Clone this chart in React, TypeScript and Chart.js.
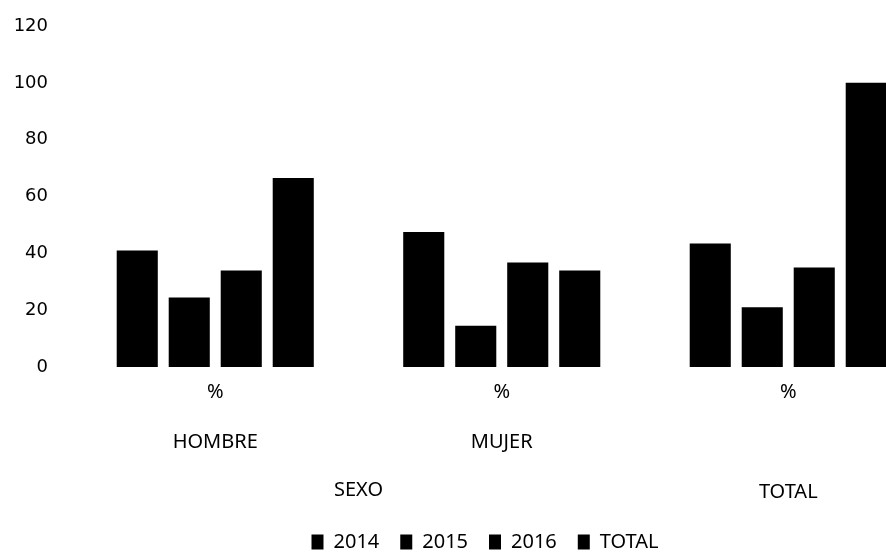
import React, { useEffect, useRef } from 'react';
import { Chart, registerables } from 'chart.js';

Chart.register(...registerables);

// ---- data ----
const categories: string[][] = [['%', 'HOMBRE'], ['%', 'MUJER'], ['%', '', 'TOTAL']];
const spanLabel = 'SEXO'; // spans the first two categories
const spanCategories = [0, 1];
const seriesNames = ['2014', '2015', '2016', 'TOTAL'];
const values2014 = [41, 47.5, 43.5];
const values2015 = [24.5, 14.5, 21];
const values2016 = [34, 36.8, 35];
const valuesTotal = [66.5, 34, 100];
const yMin = 0;
const yMax = 120;
const yStep = 20;

const W = 970;
const H = 554;
const LABEL_FONT = '"Noto Sans", sans-serif';
const LINE_H = 50;
const X_PAD = 0;

const spanPlugin = {
  id: 'spanLabel',
  afterDraw(chart: any) {
    const xs = chart.scales.x;
    const ctx = chart.ctx;
    const px =
      spanCategories.reduce((s, i) => s + xs.getPixelForValue(i), 0) / spanCategories.length;
    const py = xs.top + X_PAD + LINE_H * 2 + LINE_H / 2 - 2;
    ctx.save();
    ctx.fillStyle = '#000';
    ctx.font = '20px ' + LABEL_FONT;
    ctx.textAlign = 'center';
    ctx.textBaseline = 'middle';
    ctx.fillText(spanLabel, px, py);
    ctx.restore();
  },
};

export default function App() {
  const ref = useRef<HTMLCanvasElement>(null);
  useEffect(() => {
    if (!ref.current) return;
    const series = [values2014, values2015, values2016, valuesTotal];
    const chart = new Chart(ref.current, {
      type: 'bar',
      data: {
        labels: categories,
        datasets: seriesNames.map((name, i) => ({
          label: name,
          data: series[i],
          backgroundColor: '#000',
          borderWidth: 0,
          categoryPercentage: 0.726,
          barPercentage: 0.79,
        })),
      },
      options: {
        responsive: false,
        animation: false,
        devicePixelRatio: 1,
        layout: { padding: { left: 0, right: 0, top: 26, bottom: -8 } },
        plugins: {
          tooltip: { enabled: false },
          legend: {
            position: 'bottom',
            labels: {
              color: '#000',
              font: { family: LABEL_FONT, size: 20 },
              boxWidth: 12,
              boxHeight: 15,
              padding: 21,
            },
          },
        },
        scales: {
          x: {
            grid: { display: false, drawTicks: false },
            border: { display: false },
            ticks: {
              color: '#000',
              padding: X_PAD,
              maxRotation: 0,
              autoSkip: false,
              font: { family: LABEL_FONT, size: 20, lineHeight: LINE_H / 20 },
            },
            afterFit(s: any) {
              s.height = 144;
            },
          },
          y: {
            min: yMin,
            max: yMax,
            grid: { display: false, drawTicks: false },
            border: { display: false },
            ticks: {
              stepSize: yStep,
              color: '#000',
              padding: 24,
              font: { family: '"DejaVu Sans", sans-serif', size: 18 },
            },
            afterFit(s: any) {
              s.width = 72;
              s.paddingTop = 0;
              s.paddingBottom = 0;
            },
          },
          y2: {
            position: 'right',
            grid: { display: false, drawTicks: false },
            border: { display: false },
            ticks: { display: false },
            afterFit(s: any) {
              s.width = 38.5;
              s.paddingTop = 0;
              s.paddingBottom = 0;
            },
          },
        },
      },
      plugins: [spanPlugin],
    });
    return () => chart.destroy();
  }, []);
  return (
    <div style={{ position: 'fixed', left: 0, top: 0, width: 886, height: 554, overflow: 'hidden', background: '#fff' }}>
      <canvas ref={ref} width={W} height={H} style={{ width: W, height: H, display: 'block' }} />
    </div>
  );
}
